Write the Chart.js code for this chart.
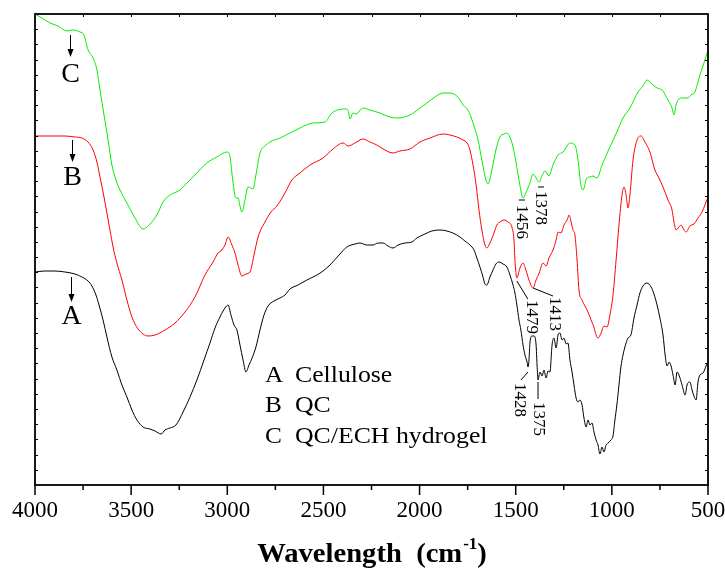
<!DOCTYPE html>
<html><head><meta charset="utf-8">
<script src="https://cdn.jsdelivr.net/npm/chart.js@4.4.0/dist/chart.umd.min.js"></script>
<style>html,body{margin:0;padding:0;background:#fff;}canvas{display:block;}</style>
</head><body>
<canvas id="c" width="725" height="571"></canvas>
<script>
// ---- data (transmittance, arbitrary units, offset curves) ----
const wavenumberTicks = [4000, 3500, 3000, 2500, 2000, 1500, 1000, 500];

const hydrogelWn = [4000,3964,3922,3880,3834,3802,3766,3745,3724,3698,3678,3662,3641,3620,3600,3579,3558,3522,3480,3438,3402,3366,3334,3298,3246,3210,3168,3106,3054,3002,2986,2976,2965,2955,2944,2934,2924,2908,2892,2877,2866,2851,2830,2804,2778,2726,2674,2622,2554,2492,2456,2388,2372,2362,2346,2331,2294,2258,2206,2154,2118,2050,1998,1962,1920,1878,1842,1806,1790,1774,1748,1722,1696,1676,1655,1644,1624,1603,1582,1561,1546,1530,1514,1498,1483,1462,1441,1426,1410,1394,1378,1364,1348,1327,1306,1280,1254,1233,1218,1192,1176,1161,1150,1130,1114,1098,1077,1051,1010,974,942,906,864,838,817,791,765,739,708,687,677,666,656,630,604,589,568,552,542,521,500];
const hydrogelT = [471,467,462,459,454,455,453,450,435,427,415,395,370,345,320,305,295,282,267,256,261,270,283,290,295,302,310,322,328,333,329,312,295,287,287,279,273,285,298,297,296,310,332,339,343,347,352,357,362,363,372,376,375,366,372,371,377,375,372,368,367,370,377,382,388,392,392,389,385,380,375,362,345,325,305,301,315,335,348,351,352,348,338,322,305,287,295,302,311,307,303,309,314,309,320,330,333,339,342,340,325,300,295,307,308,309,307,320,338,353,367,377,393,399,405,401,397,395,385,377,370,380,385,387,387,390,393,403,410,422,435];

const qcWn = [4000,3922,3844,3792,3756,3724,3698,3678,3662,3641,3626,3610,3594,3574,3548,3522,3496,3464,3438,3412,3376,3324,3272,3220,3168,3116,3074,3048,3028,3012,2996,2976,2960,2944,2924,2903,2882,2861,2840,2804,2773,2742,2700,2664,2622,2570,2502,2450,2398,2372,2336,2294,2258,2222,2180,2138,2102,2050,1998,1946,1878,1842,1806,1774,1753,1738,1722,1706,1691,1676,1660,1650,1634,1613,1598,1582,1561,1540,1520,1509,1504,1494,1478,1462,1447,1431,1410,1394,1378,1358,1342,1327,1306,1290,1280,1264,1249,1233,1222,1212,1202,1192,1181,1171,1155,1140,1124,1108,1092,1082,1072,1056,1041,1025,1010,994,978,963,947,937,926,916,906,890,869,848,828,802,776,755,734,708,687,677,666,651,640,625,614,594,573,552,531,516,500];
const qcT = [349,349,349,348,347,343,335,323,308,288,272,255,238,222,205,185,168,156,151,149,150,155,162,173,188,210,223,232,235,240,248,240,232,220,209,211,213,230,248,263,273,279,292,305,312,320,327,336,342,339,342,346,343,340,335,332,334,336,343,347,351,350,348,345,342,335,320,300,275,255,240,237,242,252,260,263,265,263,258,245,225,207,217,222,215,205,197,205,212,222,219,227,235,245,253,252,260,265,270,263,255,250,225,195,185,179,173,165,157,150,147,152,159,158,170,190,225,260,290,298,290,277,290,325,345,349,343,333,315,307,298,285,275,263,255,258,260,255,253,259,261,267,273,280,288];

const celluloseWn = [4000,3948,3896,3844,3792,3756,3724,3704,3683,3667,3646,3626,3600,3574,3548,3522,3496,3470,3438,3402,3376,3344,3324,3298,3267,3230,3194,3158,3121,3090,3064,3038,3012,2996,2981,2965,2950,2934,2918,2903,2887,2871,2851,2830,2809,2788,2757,2726,2700,2674,2632,2586,2534,2502,2466,2414,2378,2336,2310,2274,2242,2216,2190,2164,2138,2112,2076,2040,2014,1972,1936,1894,1858,1827,1790,1764,1738,1717,1702,1686,1670,1660,1650,1634,1618,1603,1587,1566,1546,1530,1514,1504,1494,1483,1473,1462,1452,1441,1436,1431,1426,1415,1405,1394,1389,1384,1374,1363,1353,1342,1332,1322,1311,1301,1290,1280,1270,1259,1249,1238,1228,1218,1207,1197,1186,1176,1166,1155,1145,1134,1124,1114,1103,1093,1082,1072,1062,1051,1041,1030,1020,1005,994,984,974,963,953,942,932,916,901,885,869,854,838,817,796,781,765,750,734,723,713,702,692,682,671,661,651,635,619,609,594,583,573,562,552,542,526,510,500];
const celluloseT = [213,214,214,213,211,208,204,199,190,180,165,148,128,115,100,88,75,65,58,56,54,51,55,57,60,73,88,105,125,142,157,168,177,180,170,160,155,140,125,113,120,127,138,155,170,179,184,187,190,196,200,205,210,214,220,231,238,241,242,240,240,242,242,239,237,240,242,243,247,251,254,255,254,252,248,244,240,235,227,218,208,201,200,208,215,221,223,221,218,210,200,192,180,165,155,140,130,123,118,125,142,149,149,140,120,105,113,109,115,107,114,113,140,147,137,150,152,145,147,141,142,125,113,100,87,83,85,80,67,58,65,60,62,53,45,40,31,38,33,40,42,45,49,65,80,100,118,130,138,147,150,167,180,192,199,202,198,191,180,167,150,130,119,123,119,110,100,113,110,100,90,100,103,95,89,85,103,110,112,119,123];

const seriesNames = ['Cellulose', 'QC', 'QC/ECH hydrogel'];
const seriesLetters = ['A', 'B', 'C'];

// peak annotations (wavenumber, transmittance of label top; leader line ends)
const peakLabels = [
  {text: '1456', x: 1468, y: 280, lead: [[1484, 285], [1452, 285]]},
  {text: '1378', x: 1369, y: 294, lead: [[1384, 298], [1353, 298]]},
  {text: '1479', x: 1416, y: 185, lead: [[1494, 204], [1437, 186]]},
  {text: '1413', x: 1296, y: 188, lead: [[1410, 197], [1306, 189]]},
  {text: '1428', x: 1483, y: 102, lead: [[1436, 113], [1473, 105]]},
  {text: '1375', x: 1384, y: 83,  lead: [[1384, 103], [1384, 86]]}
];
// curve markers: letter + downward arrow (wavenumber, arrow top, arrow tip, letter centre)
const curveMarks = [
  {letter: 'C', x: 3818, y1: 450, y2: 428, ly: 410},
  {letter: 'B', x: 3808, y1: 345, y2: 323, ly: 307},
  {letter: 'A', x: 3813, y1: 208, y2: 183, ly: 168}
];
const yMax = 471, yTickCount = 31;

// ---- chart ----
const serif = '"Liberation Serif", "Times New Roman", serif';
const toPts = (xs, ys) => xs.map((v, i) => ({x: v, y: ys[i]}));

function sText(ctx, t, x, y, sx) {
  ctx.save(); ctx.translate(x, y); ctx.scale(sx, 1); ctx.fillText(t, 0, 0); ctx.restore();
}

const decor = {
  id: 'decor',
  afterDatasetsDraw(chart) {
    const {ctx, chartArea: {left, right, top, bottom}, scales: {x, y}} = chart;
    ctx.save();
    ctx.strokeStyle = '#000'; ctx.fillStyle = '#000';
    // ticks
    ctx.lineWidth = 1.5;
    ctx.beginPath();
    for (let v = 500; v <= 4000; v += 250) {
      const px = x.getPixelForValue(v);
      ctx.moveTo(px, bottom); ctx.lineTo(px, bottom + (v % 500 === 0 ? 10 : 5));
    }
    ctx.stroke();
    ctx.lineWidth = 1;
    ctx.beginPath();
    for (let v = 750; v < 4000; v += 250) {
      const px = Math.round(x.getPixelForValue(v)) + 0.5;
      ctx.moveTo(px, top); ctx.lineTo(px, top + 3);
    }
    for (let i = 1; i < yTickCount; i++) {
      const py = Math.round(y.getPixelForValue(i * yMax / yTickCount)) + 0.5;
      ctx.moveTo(left, py); ctx.lineTo(left + 3, py);
      ctx.moveTo(right, py); ctx.lineTo(right - 3, py);
    }
    ctx.stroke();
    ctx.lineWidth = 1.8;
    ctx.strokeRect(left, top, right - left, bottom - top);

    // tick labels
    ctx.font = '23px ' + serif;
    ctx.textAlign = 'center'; ctx.textBaseline = 'middle';
    wavenumberTicks.forEach(v => ctx.fillText(String(v), x.getPixelForValue(v), bottom + 26));

    // curve markers
    ctx.lineWidth = 1;
    ctx.font = '28px ' + serif;
    curveMarks.forEach(m => {
      const px = Math.round(x.getPixelForValue(m.x)) + 0.5;
      const y1 = y.getPixelForValue(m.y1), y2 = y.getPixelForValue(m.y2);
      ctx.beginPath(); ctx.moveTo(px, y1); ctx.lineTo(px, y2 - 6); ctx.stroke();
      ctx.beginPath(); ctx.moveTo(px - 3, y2 - 8); ctx.lineTo(px + 3, y2 - 8); ctx.lineTo(px, y2); ctx.closePath(); ctx.fill();
      ctx.fillText(m.letter, px, y.getPixelForValue(m.ly));
    });

    // peak labels
    ctx.font = '17px ' + serif;
    ctx.textAlign = 'left'; ctx.textBaseline = 'middle';
    peakLabels.forEach(p => {
      ctx.beginPath();
      ctx.moveTo(x.getPixelForValue(p.lead[0][0]), y.getPixelForValue(p.lead[0][1]));
      ctx.lineTo(x.getPixelForValue(p.lead[1][0]), y.getPixelForValue(p.lead[1][1]));
      ctx.stroke();
      ctx.save();
      ctx.translate(x.getPixelForValue(p.x), y.getPixelForValue(p.y));
      ctx.rotate(Math.PI / 2);
      ctx.fillText(p.text, 0, 0);
      ctx.restore();
    });

    // legend text
    ctx.font = '23px ' + serif;
    ctx.textAlign = 'left'; ctx.textBaseline = 'middle';
    const legY = [376, 406, 437];
    seriesNames.forEach((n, i) => {
      sText(ctx, seriesLetters[i], 265, legY[i], 1.1);
      sText(ctx, n, 295, legY[i], 1.12);
    });

    // axis title
    ctx.textAlign = 'left'; ctx.textBaseline = 'alphabetic';
    const sx = 1.06;
    const big = 'bold 27px ' + serif, small = 'bold 16px ' + serif;
    const p1 = 'Wavelength  (cm', p2 = '-1', p3 = ')';
    ctx.font = big; const w1 = ctx.measureText(p1).width * sx, w3 = ctx.measureText(p3).width * sx;
    ctx.font = small; const w2 = ctx.measureText(p2).width * sx;
    let tx = (left + right) / 2 - (w1 + w2 + w3) / 2;
    const by = 562;
    ctx.font = big; sText(ctx, p1, tx, by, sx); tx += w1;
    ctx.font = small; sText(ctx, p2, tx + 1, by - 13, sx); tx += w2 + 1;
    ctx.font = big; sText(ctx, p3, tx, by, sx);
    ctx.restore();
  }
};

new Chart(document.getElementById('c'), {
  type: 'scatter',
  data: {
    datasets: [
      {label: seriesNames[0], data: toPts(celluloseWn, celluloseT), borderColor: '#000000'},
      {label: seriesNames[1], data: toPts(qcWn, qcT), borderColor: '#ff0000'},
      {label: seriesNames[2], data: toPts(hydrogelWn, hydrogelT), borderColor: '#00ee00'}
    ].map(d => Object.assign(d, {showLine: true, pointRadius: 0, borderWidth: 1, cubicInterpolationMode: 'monotone', fill: false}))
  },
  options: {
    responsive: false, animation: false, events: [],
    layout: {padding: {left: 35, right: 17, top: 14, bottom: 0}},
    plugins: {legend: {display: false}, tooltip: {enabled: false}},
    scales: {
      x: {
        type: 'linear', reverse: true, min: 500, max: 4000,
        afterBuildTicks: s => { s.ticks = wavenumberTicks.map(v => ({value: v})); },
        afterFit: s => { s.height = 86; },
        ticks: {display: false},
        grid: {display: false, drawTicks: false},
        border: {display: false}
      },
      y: {type: 'linear', min: 0, max: yMax, display: false}
    }
  },
  plugins: [decor]
});
</script>
</body></html>
